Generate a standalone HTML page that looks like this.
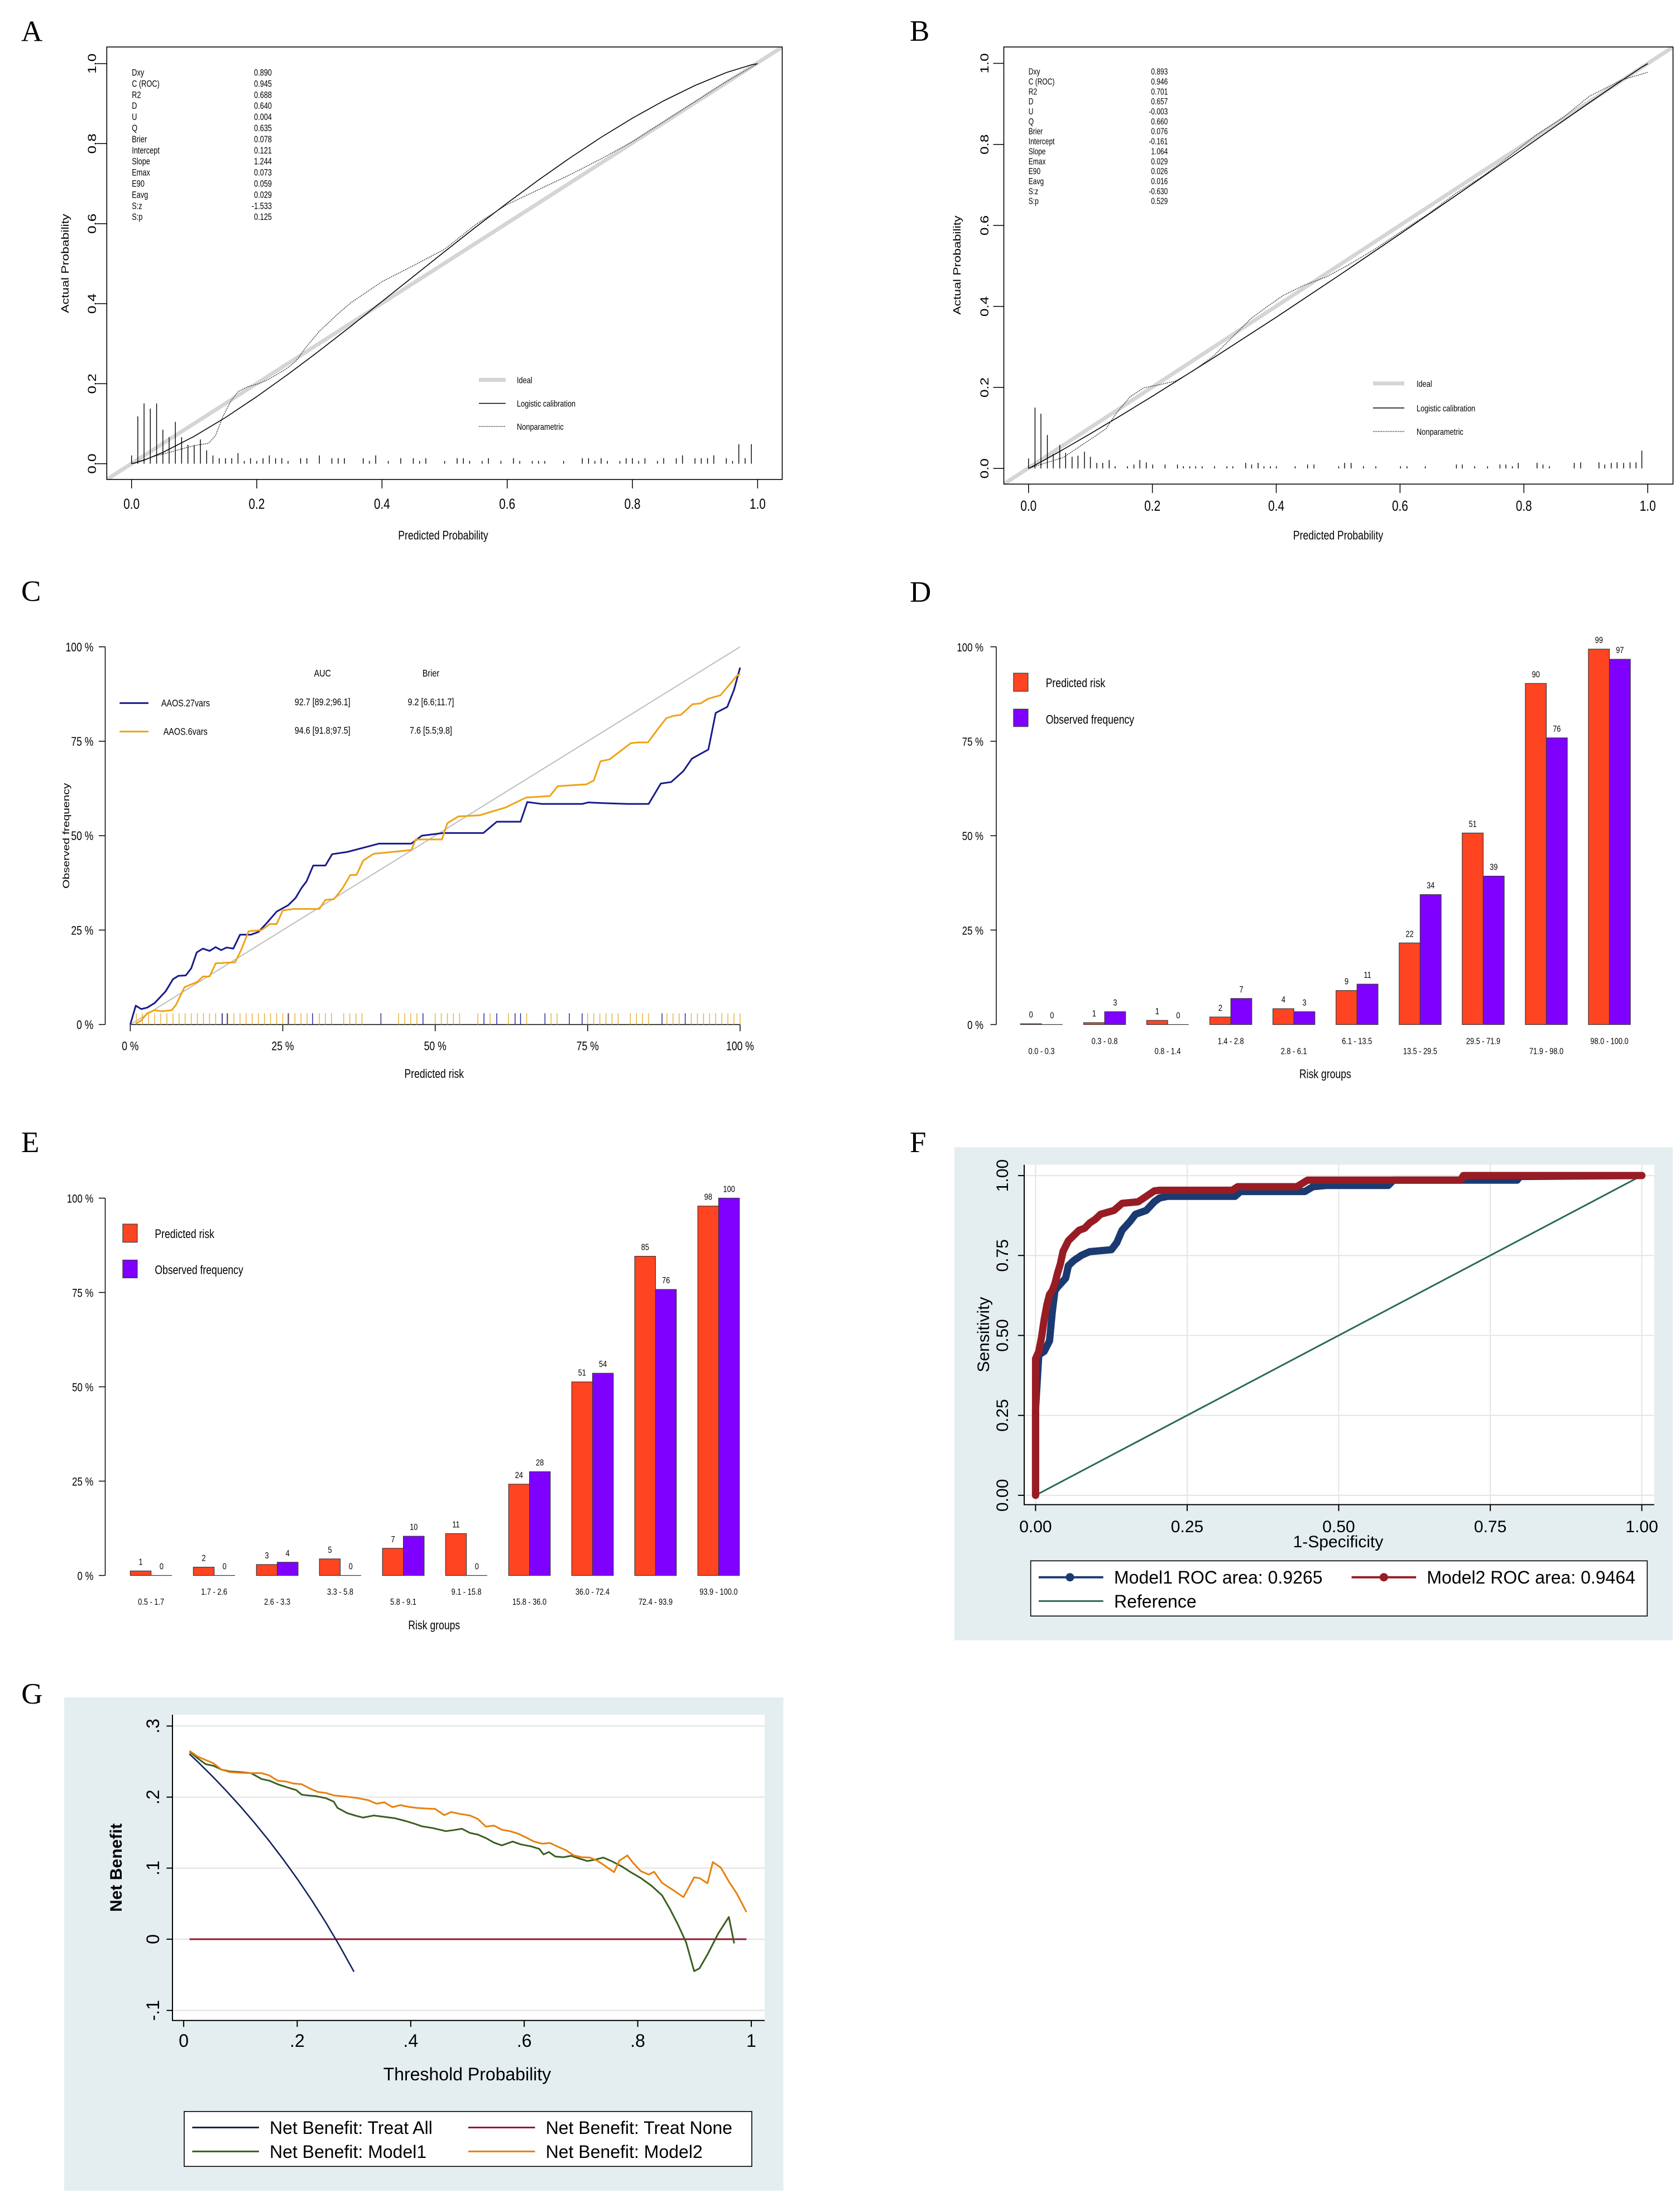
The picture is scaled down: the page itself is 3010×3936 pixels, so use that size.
<!DOCTYPE html>
<html><head><meta charset="utf-8"><style>
html,body{margin:0;padding:0;background:#fff}
svg{display:block}
.s{font-family:"Liberation Sans",Arial,sans-serif;fill:#000}
.sf{font-family:"Liberation Serif","Times New Roman",serif;fill:#000}
</style></head><body>
<svg width="3010" height="3936" viewBox="0 0 3010 3936" xmlns="http://www.w3.org/2000/svg">
<rect width="3010" height="3936" fill="#fff"/>
<defs>
<clipPath id="cA"><rect x="191.3" y="84.2" width="1210.2" height="774.8"/></clipPath>
<clipPath id="cB"><rect x="1798.5" y="84.2" width="1199" height="783.1"/></clipPath>
</defs>

<!-- ================= PANEL A ================= -->
<text class="sf" x="38" y="73.3" font-size="53">A</text>
<line x1="191.3" y1="859" x2="1401.5" y2="84.2" stroke="#d5d5d5" stroke-width="7" clip-path="url(#cA)"/>
<rect x="191.3" y="84.2" width="1210.2" height="774.8" fill="none" stroke="#000" stroke-width="1.6"/>
<g stroke="#000" stroke-width="1.5" fill="none">
<path d="M235.7 859v16M460 859v16M684.4 859v16M908.7 859v16M1133.1 859v16M1357.4 859v16"/>
<path d="M191.3 830.7h-19M191.3 687.4h-19M191.3 544h-19M191.3 400.7h-19M191.3 257.3h-19M191.3 114h-19"/>
</g>
<g class="s" font-size="26" text-anchor="middle">
<text transform="translate(235.7,911.5) scale(.8,1)">0.0</text>
<text transform="translate(460,911.5) scale(.8,1)">0.2</text>
<text transform="translate(684.4,911.5) scale(.8,1)">0.4</text>
<text transform="translate(908.7,911.5) scale(.8,1)">0.6</text>
<text transform="translate(1133.1,911.5) scale(.8,1)">0.8</text>
<text transform="translate(1357.4,911.5) scale(.8,1)">1.0</text>
<text transform="translate(172,830.7) scale(.8,1) rotate(-90)">0.0</text>
<text transform="translate(172,687.4) scale(.8,1) rotate(-90)">0.2</text>
<text transform="translate(172,544) scale(.8,1) rotate(-90)">0.4</text>
<text transform="translate(172,400.7) scale(.8,1) rotate(-90)">0.6</text>
<text transform="translate(172,257.3) scale(.8,1) rotate(-90)">0.8</text>
<text transform="translate(172,114) scale(.8,1) rotate(-90)">1.0</text>
</g>
<text class="s" font-size="22" text-anchor="middle" transform="translate(794,966.5) scale(.8,1)">Predicted Probability</text>
<text class="s" font-size="23" text-anchor="middle" transform="translate(123,472) scale(.8,1) rotate(-90)">Actual Probability</text>
<g class="s" font-size="17" transform="translate(236.3,0) scale(.75,1)">
<text x="0" y="135.5">Dxy</text><text x="0" y="155.4">C (ROC)</text><text x="0" y="175.3">R2</text><text x="0" y="195.2">D</text><text x="0" y="215.1">U</text><text x="0" y="235">Q</text><text x="0" y="254.9">Brier</text><text x="0" y="274.8">Intercept</text><text x="0" y="294.7">Slope</text><text x="0" y="314.6">Emax</text><text x="0" y="334.5">E90</text><text x="0" y="354.4">Eavg</text><text x="0" y="374.3">S:z</text><text x="0" y="394.2">S:p</text>
<g text-anchor="end">
<text x="334.3" y="135.5">0.890</text><text x="334.3" y="155.4">0.945</text><text x="334.3" y="175.3">0.688</text><text x="334.3" y="195.2">0.640</text><text x="334.3" y="215.1">0.004</text><text x="334.3" y="235">0.635</text><text x="334.3" y="254.9">0.078</text><text x="334.3" y="274.8">0.121</text><text x="334.3" y="294.7">1.244</text><text x="334.3" y="314.6">0.073</text><text x="334.3" y="334.5">0.059</text><text x="334.3" y="354.4">0.029</text><text x="334.3" y="374.3">-1.533</text><text x="334.3" y="394.2">0.125</text>
</g></g>
<line x1="858" y1="680.5" x2="906" y2="680.5" stroke="#d5d5d5" stroke-width="7"/>
<line x1="858" y1="722.6" x2="906" y2="722.6" stroke="#000" stroke-width="1.5"/>
<line x1="858" y1="764" x2="906" y2="764" stroke="#000" stroke-width="1.3" stroke-dasharray="1.5,1.5"/>
<g class="s" font-size="16">
<text transform="translate(926,686.5) scale(.8,1)">Ideal</text>
<text transform="translate(926,728.6) scale(.8,1)">Logistic calibration</text>
<text transform="translate(926,770) scale(.8,1)">Nonparametric</text>
</g>
<polyline fill="none" stroke="#000" stroke-width="1.6" points="235.7,830.7 241.3,829.6 258.1,824.4 291.8,810.5 347.9,781.7 404,748 460,710.6 516.1,670.5 572.2,628.4 628.3,584.7 684.4,540.1 740.5,495.4 796.6,450.7 852.6,406.6 908.7,363.9 964.8,322.5 1020.9,283.1 1077,246 1133.1,211.7 1189.1,180.6 1245.2,153.1 1301.3,130 1346.2,116.1 1357.4,114"/>
<polyline fill="none" stroke="#222" stroke-width="1.3" stroke-dasharray="2,1.5" points="235.7,830.7 258.1,823.5 280.6,816.4 303,810.6 325.4,804.2 347.9,798.4 373.7,794.1 386,780.5 399.5,746.1 412.9,719.6 426.4,701.7 443.2,693.1 463.4,687.4 480.2,680.2 497.1,670.2 513.9,660.1 530.7,646.5 547.5,622.9 572.2,593.5 605.9,561.9 628.3,542.6 684.4,504.6 740.5,475.9 796.6,446.5 852.6,402.1 908.7,366.3 964.8,339.8 1020.9,313.2 1077,284.6 1133.1,253.8 1189.1,218 1245.2,182.1 1301.3,146.2 1357.4,114"/>
<path fill="none" stroke="#000" stroke-width="1.4" d="M235.7 830.7v-14.7M246.9 830.7v-84.7M258.1 830.7v-108M269.3 830.7v-98.7M280.6 830.7v-108M291.8 830.7v-61M303 830.7v-47.7M314.2 830.7v-75M325.4 830.7v-47.7M336.7 830.7v-33.7M347.9 830.7v-33.7M359.1 830.7v-43.3M370.3 830.7v-24M381.5 830.7v-14.7M392.7 830.7v-10M404 830.7v-10M415.2 830.7v-10M426.4 830.7v-19M437.6 830.7v-5M448.8 830.7v-10M460 830.7v-5M471.3 830.7v-10M482.5 830.7v-14.7M493.7 830.7v-10M504.9 830.7v-10M516.1 830.7v-5M538.6 830.7v-10M549.8 830.7v-10M572.2 830.7v-14.7M594.6 830.7v-10M605.9 830.7v-10M617.1 830.7v-10M650.7 830.7v-10M661.9 830.7v-5M673.2 830.7v-15M695.6 830.7v-5M718 830.7v-10M740.5 830.7v-10M751.7 830.7v-5M762.9 830.7v-10M796.6 830.7v-5M819 830.7v-10M830.2 830.7v-10M841.4 830.7v-5M863.9 830.7v-5M875.1 830.7v-10M897.5 830.7v-5M920 830.7v-10M931.2 830.7v-5M953.6 830.7v-5M964.8 830.7v-5M976 830.7v-5M1009.7 830.7v-5M1043.3 830.7v-10M1054.5 830.7v-10M1065.8 830.7v-5M1077 830.7v-10M1088.2 830.7v-5M1110.6 830.7v-5M1121.8 830.7v-10M1133.1 830.7v-10M1144.3 830.7v-5M1155.5 830.7v-10M1178 830.7v-5M1189.1 830.7v-10M1211.6 830.7v-10M1222.8 830.7v-15M1245.2 830.7v-10M1256.4 830.7v-10M1267.6 830.7v-10M1278.9 830.7v-15M1301.3 830.7v-10M1312.5 830.7v-5M1323.7 830.7v-35M1335 830.7v-10M1346.2 830.7v-35"/>

<!-- ================= PANEL B ================= -->
<text class="sf" x="1630" y="73" font-size="53">B</text>
<line x1="1798.5" y1="867.3" x2="2997.5" y2="84.2" stroke="#d5d5d5" stroke-width="7" clip-path="url(#cB)"/>
<rect x="1798.5" y="84.2" width="1199" height="783.1" fill="none" stroke="#000" stroke-width="1.6"/>
<g stroke="#000" stroke-width="1.5" fill="none">
<path d="M1842.8 867.3v16M2064.7 867.3v16M2286.6 867.3v16M2508.4 867.3v16M2730.3 867.3v16M2952.2 867.3v16"/>
<path d="M1798.5 839.3h-19M1798.5 694.1h-19M1798.5 549h-19M1798.5 403.8h-19M1798.5 258.7h-19M1798.5 113.5h-19"/>
</g>
<g class="s" font-size="26" text-anchor="middle">
<text transform="translate(1842.8,915) scale(.8,1)">0.0</text>
<text transform="translate(2064.7,915) scale(.8,1)">0.2</text>
<text transform="translate(2286.6,915) scale(.8,1)">0.4</text>
<text transform="translate(2508.4,915) scale(.8,1)">0.6</text>
<text transform="translate(2730.3,915) scale(.8,1)">0.8</text>
<text transform="translate(2952.2,915) scale(.8,1)">1.0</text>
<text transform="translate(1771,839.3) scale(.8,1) rotate(-90)">0.0</text>
<text transform="translate(1771,694.1) scale(.8,1) rotate(-90)">0.2</text>
<text transform="translate(1771,549) scale(.8,1) rotate(-90)">0.4</text>
<text transform="translate(1771,403.8) scale(.8,1) rotate(-90)">0.6</text>
<text transform="translate(1771,258.7) scale(.8,1) rotate(-90)">0.8</text>
<text transform="translate(1771,113.5) scale(.8,1) rotate(-90)">1.0</text>
</g>
<text class="s" font-size="22" text-anchor="middle" transform="translate(2397.5,966.5) scale(.8,1)">Predicted Probability</text>
<text class="s" font-size="23" text-anchor="middle" transform="translate(1721,475) scale(.8,1) rotate(-90)">Actual Probability</text>
<g class="s" font-size="16" transform="translate(1842.8,0) scale(.75,1)">
<text x="0" y="133.6">Dxy</text><text x="0" y="151.5">C (ROC)</text><text x="0" y="169.3">R2</text><text x="0" y="187.2">D</text><text x="0" y="205">U</text><text x="0" y="222.9">Q</text><text x="0" y="240.7">Brier</text><text x="0" y="258.6">Intercept</text><text x="0" y="276.4">Slope</text><text x="0" y="294.3">Emax</text><text x="0" y="312.1">E90</text><text x="0" y="330">Eavg</text><text x="0" y="347.8">S:z</text><text x="0" y="365.7">S:p</text>
<g text-anchor="end">
<text x="332.7" y="133.6">0.893</text><text x="332.7" y="151.5">0.946</text><text x="332.7" y="169.3">0.701</text><text x="332.7" y="187.2">0.657</text><text x="332.7" y="205">-0.003</text><text x="332.7" y="222.9">0.660</text><text x="332.7" y="240.7">0.076</text><text x="332.7" y="258.6">-0.161</text><text x="332.7" y="276.4">1.064</text><text x="332.7" y="294.3">0.029</text><text x="332.7" y="312.1">0.026</text><text x="332.7" y="330">0.016</text><text x="332.7" y="347.8">-0.630</text><text x="332.7" y="365.7">0.529</text>
</g></g>
<line x1="2460" y1="686.9" x2="2516" y2="686.9" stroke="#d5d5d5" stroke-width="7"/>
<line x1="2460" y1="730.9" x2="2516" y2="730.9" stroke="#000" stroke-width="1.5"/>
<line x1="2460" y1="773" x2="2516" y2="773" stroke="#000" stroke-width="1.3" stroke-dasharray="1.5,1.5"/>
<g class="s" font-size="16">
<text transform="translate(2538,692.9) scale(.8,1)">Ideal</text>
<text transform="translate(2538,736.9) scale(.8,1)">Logistic calibration</text>
<text transform="translate(2538,779) scale(.8,1)">Nonparametric</text>
</g>
<polyline fill="none" stroke="#000" stroke-width="1.6" points="1842.8,839.3 1848.3,836.5 1865,827.6 1898.3,809 1953.7,776.9 2009.2,743.8 2064.7,709.9 2175.6,640.2 2286.6,568.3 2397.5,494.5 2508.4,419.2 2619.4,342.8 2730.3,265.6 2841.3,188.3 2896.7,150.2 2941.1,120.5 2952.2,114"/>
<polyline fill="none" stroke="#222" stroke-width="1.3" stroke-dasharray="2,1.5" points="1842.8,839.3 1865,832 1904.9,819.7 1952.6,787.8 1981.5,768.2 2000.3,739.9 2024.7,710.8 2049.1,694.9 2078,689.1 2106.8,682.5 2140.1,662.9 2174.5,637.5 2212.2,599.8 2241.1,570.8 2269.9,549.7 2298.8,529.4 2337.6,510.5 2376.4,496 2415.3,475 2463,446.6 2510.7,414.7 2559.5,382.8 2607.2,347.2 2656,316 2703.7,280.4 2751.4,242.7 2800.2,210.8 2847.9,172.3 2905.6,143.3 2952.2,129.5"/>
<path fill="none" stroke="#000" stroke-width="1.4" d="M1842.8 839.3v-18M1854.4 839.3v-109M1865 839.3v-98M1876.5 839.3v-60M1887.1 839.3v-25.5M1898.7 839.3v-42M1909.3 839.3v-28M1920.8 839.3v-21M1931.4 839.3v-23M1943 839.3v-30M1953.6 839.3v-21M1965.1 839.3v-10M1975.7 839.3v-10M1987.3 839.3v-15M1997.9 839.3v-4M2020 839.3v-4M2031.6 839.3v-7M2042.2 839.3v-15M2053.7 839.3v-11M2065.3 839.3v-7M2087.4 839.3v-7M2109.6 839.3v-7M2120.2 839.3v-4M2131.7 839.3v-4M2142.3 839.3v-4M2153.9 839.3v-4M2176 839.3v-4M2198.2 839.3v-4M2208.8 839.3v-4M2231.9 839.3v-10M2242.5 839.3v-7M2254.1 839.3v-10M2264.6 839.3v-4M2276.2 839.3v-4M2286.8 839.3v-4M2320.5 839.3v-4M2342.7 839.3v-7M2354.2 839.3v-7M2398.5 839.3v-4M2409.1 839.3v-10M2420.7 839.3v-10M2442.8 839.3v-4M2465 839.3v-4M2509.2 839.3v-4M2520.8 839.3v-4M2553.6 839.3v-4M2609.4 839.3v-7M2620 839.3v-7M2642.1 839.3v-4M2665.3 839.3v-4M2687.4 839.3v-7M2698 839.3v-7M2709.6 839.3v-4M2720.2 839.3v-10M2753.9 839.3v-10M2764.5 839.3v-7M2776 839.3v-4M2820.5 839.3v-10M2832 839.3v-11M2864.8 839.3v-11M2875.2 839.3v-7M2886.8 839.3v-10M2897.3 839.3v-11M2909 839.3v-10M2920.5 839.3v-11M2931.2 839.3v-11M2941.6 839.3v-32"/>

<!-- ================= PANEL C ================= -->
<text class="sf" x="38" y="1076.5" font-size="53">C</text>
<g stroke="#000" stroke-width="1.5" fill="none">
<path d="M188.5 1158.8V1835.5M177 1158.8h11.5M177 1328h11.5M177 1497.2h11.5M177 1666.3h11.5M177 1835.5h11.5"/>
<path d="M233.4 1835.5H1326M233.4 1835.5v12M506.6 1835.5v12M779.7 1835.5v12M1052.9 1835.5v12M1326 1835.5v12"/>
</g>
<g class="s" font-size="22" text-anchor="end">
<text transform="translate(167.4,1166.8) scale(.8,1)">100 %</text>
<text transform="translate(167.4,1336) scale(.8,1)">75 %</text>
<text transform="translate(167.4,1505.2) scale(.8,1)">50 %</text>
<text transform="translate(167.4,1674.3) scale(.8,1)">25 %</text>
<text transform="translate(167.4,1843.5) scale(.8,1)">0 %</text>
</g>
<g class="s" font-size="22" text-anchor="middle">
<text transform="translate(233.4,1881.7) scale(.8,1)">0 %</text>
<text transform="translate(506.6,1881.7) scale(.8,1)">25 %</text>
<text transform="translate(779.7,1881.7) scale(.8,1)">50 %</text>
<text transform="translate(1052.9,1881.7) scale(.8,1)">75 %</text>
<text transform="translate(1326,1881.7) scale(.8,1)">100 %</text>
<text transform="translate(777.8,1930.8) scale(.8,1)">Predicted risk</text>
<text transform="translate(124,1497.4) scale(.8,1) rotate(-90)" font-size="21">Observed frequency</text>
</g>
<line x1="233.4" y1="1835.5" x2="1326" y2="1158.8" stroke="#bdbdbd" stroke-width="2"/>
<g class="s" font-size="18" text-anchor="middle">
<text transform="translate(577.8,1212) scale(.8,1)">AUC</text>
<text transform="translate(772,1212) scale(.8,1)">Brier</text>
<text transform="translate(577.8,1263.5) scale(.8,1)">92.7 [89.2;96.1]</text>
<text transform="translate(772,1263.5) scale(.8,1)">9.2 [6.6;11.7]</text>
<text transform="translate(577.8,1314.5) scale(.8,1)">94.6 [91.8;97.5]</text>
<text transform="translate(772,1314.5) scale(.8,1)">7.6 [5.5;9.8]</text>
</g>
<g class="s" font-size="18">
<text transform="translate(288.9,1265.6) scale(.8,1)">AAOS.27vars</text>
<text transform="translate(292.7,1316.6) scale(.8,1)">AAOS.6vars</text>
</g>
<line x1="214.3" y1="1259.6" x2="266" y2="1259.6" stroke="#1a1a8c" stroke-width="3"/>
<line x1="214.3" y1="1310.6" x2="266" y2="1310.6" stroke="#eea315" stroke-width="3"/>
<g transform="translate(233.4,1835.5) scale(10.926,-6.767)" fill="none">
<path fill="none" stroke="#e8b43a" stroke-width="1.5" vector-effect="non-scaling-stroke" d="M1 0V3M2 0V3M3 0V3M4 0V3M5 0V3M6 0V3M7 0V3M8 0V3M9 0V3M10 0V3M11 0V3M12 0V3M13 0V3M14 0V3M15 0V3M16 0V3M17 0V3M18 0V3M19 0V3M20 0V3M21 0V3M22 0V3M23 0V3M24 0V3M25 0V3M26 0V3M27 0V3M28 0V3M29 0V3M31 0V3M32 0V3M33 0V3M35 0V3M36 0V3M37 0V3M38 0V3M44 0V3M45 0V3M46 0V3M47 0V3M50 0V3M51 0V3M52 0V3M53 0V3M54 0V3M57 0V3M59 0V3M62 0V3M65 0V3M69 0V3M70 0V3M75 0V3M76 0V3M77 0V3M78 0V3M79 0V3M80 0V3M82 0V3M83 0V3M84 0V3M85 0V3M88 0V3M89 0V3M90 0V3M92 0V3M93 0V3M94 0V3M95 0V3M96 0V3M97 0V3M98 0V3M99 0V3M100 0V3"/>
<path fill="none" stroke="#2a2a9a" stroke-width="1.5" vector-effect="non-scaling-stroke" d="M15.1 0V3M15.9 0V3M25.9 0V3M29.9 0V3M41.1 0V3M48 0V3M58 0V3M60.1 0V3M63.1 0V3M64 0V3M68 0V3M72 0V3M74.1 0V3M87.2 0V3M91 0V3"/>
<polyline fill="none" stroke="#1a1a8c" stroke-width="3" vector-effect="non-scaling-stroke" stroke-linejoin="round" points="0,0 0.9,5 1.8,4.1 2.8,4.5 4,5.7 5.8,8.8 7,12 7.9,12.9 9.1,13 10,14.9 10.9,19.1 11.9,20.1 13,19.5 14,20.5 14.9,19.7 15.8,20.4 16.9,20.1 18,23.8 19.8,23.8 21,24.5 22.4,26.9 24,29.9 25.9,31.6 27.1,33.5 28.1,36.2 28.9,37.9 30,42.1 32,42.1 33.1,45.1 35.6,45.7 38.2,46.8 40.8,47.9 46.1,47.9 47.8,50 51.3,50.7 57.9,50.7 60.1,53.7 64,53.7 65.1,58.9 67.5,58.4 74.1,58.4 75.1,58.8 78,58.6 81.5,58.4 85,58.4 87,63.8 88.7,64.2 90.7,67.1 92.1,70.4 94.8,72.8 96,82.5 97.9,84.1 99,88.6 100,94.5"/>
<polyline fill="none" stroke="#eea315" stroke-width="3" vector-effect="non-scaling-stroke" stroke-linejoin="round" points="0.9,0.2 1.8,1.1 2.8,3 4,3.8 5.2,3.5 6.8,3.8 7.5,5.2 8.9,9.9 11,11.3 11.9,12.7 13,12.7 14,16.2 17.2,16.5 18.2,19.8 19.4,24.7 21.5,25 22.9,26.6 24,26.6 25,30.2 26.8,30.6 31,30.6 32,33 33.4,33.2 34.7,35.8 36.1,39.6 37.1,39.6 38.2,43.4 39.9,45.2 46.1,46.2 46.8,49 51.1,49 52,53.3 53.8,55.1 57.3,55.4 61.6,57.5 64.9,60.1 68.8,60.5 70.1,63.1 74.8,63.6 76,64.6 77.1,69.7 78.6,70.2 82.1,74.5 83.3,74.7 84.9,74.7 86.5,78.2 87.9,81.1 89,81.7 90.3,82 92.2,84.8 93.5,85 94.7,86.2 96.8,87.2 99.5,92.4 100,92.8"/>
</g>

<!-- ================= PANEL D ================= -->
<text class="sf" x="1630" y="1077.8" font-size="53">D</text>
<g stroke="#000" stroke-width="1.5" fill="none">
<path d="M1785 1158.8V1835.5M1774.5 1158.8h10.5M1774.5 1328h10.5M1774.5 1497.2h10.5M1774.5 1666.3h10.5M1774.5 1835.5h10.5"/>
</g>
<g class="s" font-size="21" text-anchor="end">
<text transform="translate(1762,1166.8) scale(.8,1)">100 %</text>
<text transform="translate(1762,1336) scale(.8,1)">75 %</text>
<text transform="translate(1762,1505.2) scale(.8,1)">50 %</text>
<text transform="translate(1762,1674.3) scale(.8,1)">25 %</text>
<text transform="translate(1762,1843.5) scale(.8,1)">0 %</text>
</g>
<g stroke="#3a3a3a" stroke-width="1.2">
<g fill="#ff4422">
<rect x="1828.4" y="1834.15" width="37.6" height="1.35"/>
<rect x="1941.5" y="1832.1" width="37.6" height="3.4"/>
<rect x="2054.5" y="1828.1" width="37.6" height="7.4"/>
<rect x="2167.6" y="1822" width="37.6" height="13.5"/>
<rect x="2280.6" y="1807.1" width="37.6" height="28.4"/>
<rect x="2393.7" y="1774.6" width="37.6" height="60.9"/>
<rect x="2506.8" y="1689.3" width="37.6" height="146.2"/>
<rect x="2619.8" y="1492.4" width="37.6" height="343.1"/>
<rect x="2732.9" y="1224.4" width="37.6" height="611.1"/>
<rect x="2845.9" y="1162.9" width="37.6" height="672.6"/>
</g>
<g fill="#8000ff">
<rect x="1979.1" y="1812.5" width="37.6" height="23"/>
<rect x="2205.2" y="1788.8" width="37.6" height="46.7"/>
<rect x="2318.2" y="1812.5" width="37.6" height="23"/>
<rect x="2431.3" y="1763.1" width="37.6" height="72.4"/>
<rect x="2544.4" y="1602.7" width="37.6" height="232.8"/>
<rect x="2657.4" y="1569.6" width="37.6" height="265.9"/>
<rect x="2770.5" y="1321.9" width="37.6" height="513.6"/>
<rect x="2883.5" y="1181.1" width="37.6" height="654.4"/>
</g>
<path fill="none" d="M1866 1835.5h37.6M2092.1 1835.5h37.6"/>
</g>
<g class="s" font-size="16" text-anchor="middle">
<text transform="translate(1847.2,1823.2) scale(.8,1)">0</text>
<text transform="translate(1884.8,1824.5) scale(.8,1)">0</text>
<text transform="translate(1960.3,1821.1) scale(.8,1)">1</text>
<text transform="translate(1997.9,1801.5) scale(.8,1)">3</text>
<text transform="translate(2073.3,1817.1) scale(.8,1)">1</text>
<text transform="translate(2110.9,1824.5) scale(.8,1)">0</text>
<text transform="translate(2186.4,1811) scale(.8,1)">2</text>
<text transform="translate(2224,1777.8) scale(.8,1)">7</text>
<text transform="translate(2299.4,1796.1) scale(.8,1)">4</text>
<text transform="translate(2337,1801.5) scale(.8,1)">3</text>
<text transform="translate(2412.5,1763.6) scale(.8,1)">9</text>
<text transform="translate(2450.1,1752.1) scale(.8,1)">11</text>
<text transform="translate(2525.6,1678.3) scale(.8,1)">22</text>
<text transform="translate(2563.2,1591.7) scale(.8,1)">34</text>
<text transform="translate(2638.6,1481.4) scale(.8,1)">51</text>
<text transform="translate(2676.2,1558.6) scale(.8,1)">39</text>
<text transform="translate(2751.7,1213.4) scale(.8,1)">90</text>
<text transform="translate(2789.3,1310.9) scale(.8,1)">76</text>
<text transform="translate(2864.7,1151.9) scale(.8,1)">99</text>
<text transform="translate(2902.3,1170.1) scale(.8,1)">97</text>
<text transform="translate(1866,1888.5) scale(.8,1)">0.0 - 0.3</text>
<text transform="translate(1979.1,1870.6) scale(.8,1)">0.3 - 0.8</text>
<text transform="translate(2092.1,1888.5) scale(.8,1)">0.8 - 1.4</text>
<text transform="translate(2205.2,1870.6) scale(.8,1)">1.4 - 2.8</text>
<text transform="translate(2318.2,1888.5) scale(.8,1)">2.8 - 6.1</text>
<text transform="translate(2431.3,1870.6) scale(.8,1)">6.1 - 13.5</text>
<text transform="translate(2544.4,1888.5) scale(.8,1)">13.5 - 29.5</text>
<text transform="translate(2657.4,1870.6) scale(.8,1)">29.5 - 71.9</text>
<text transform="translate(2770.5,1888.5) scale(.8,1)">71.9 - 98.0</text>
<text transform="translate(2883.5,1870.6) scale(.8,1)">98.0 - 100.0</text>
<text transform="translate(2374.4,1931.5) scale(.8,1)" font-size="22">Risk groups</text>
</g>
<rect x="1815.9" y="1206" width="26" height="32.5" fill="#ff4422" stroke="#3a3a3a" stroke-width="1.2"/>
<rect x="1815.9" y="1270.4" width="26" height="31.3" fill="#8000ff" stroke="#3a3a3a" stroke-width="1.2"/>
<g class="s" font-size="22">
<text transform="translate(1873.7,1231.2) scale(.8,1)">Predicted risk</text>
<text transform="translate(1873.7,1296.3) scale(.8,1)">Observed frequency</text>
</g>

<!-- ================= PANEL E ================= -->
<text class="sf" x="38" y="2064.2" font-size="53">E</text>
<g stroke="#000" stroke-width="1.5" fill="none">
<path d="M188.5 2146.5V2822.5M177 2146.5h11.5M177 2315.5h11.5M177 2484.5h11.5M177 2653.5h11.5M177 2822.5h11.5"/>
</g>
<g class="s" font-size="21" text-anchor="end">
<text transform="translate(167.4,2154.5) scale(.8,1)">100 %</text>
<text transform="translate(167.4,2323.5) scale(.8,1)">75 %</text>
<text transform="translate(167.4,2492.5) scale(.8,1)">50 %</text>
<text transform="translate(167.4,2661.5) scale(.8,1)">25 %</text>
<text transform="translate(167.4,2830.5) scale(.8,1)">0 %</text>
</g>
<g stroke="#3a3a3a" stroke-width="1.2">
<g fill="#ff4422">
<rect x="233.4" y="2814.4" width="37.3" height="8.1"/>
<rect x="346.4" y="2807.6" width="37.3" height="14.9"/>
<rect x="459.4" y="2802.9" width="37.3" height="19.6"/>
<rect x="572.3" y="2792.8" width="37.3" height="29.7"/>
<rect x="685.3" y="2773.8" width="37.3" height="48.7"/>
<rect x="798.3" y="2747.5" width="37.3" height="75"/>
<rect x="911.3" y="2658.9" width="37.3" height="163.6"/>
<rect x="1024.3" y="2475.7" width="37.3" height="346.8"/>
<rect x="1137.2" y="2250.6" width="37.3" height="571.9"/>
<rect x="1250.2" y="2160.7" width="37.3" height="661.8"/>
</g>
<g fill="#8000ff">
<rect x="496.7" y="2798.8" width="37.3" height="23.7"/>
<rect x="722.6" y="2752.2" width="37.3" height="70.3"/>
<rect x="948.6" y="2636.6" width="37.3" height="185.9"/>
<rect x="1061.6" y="2460.2" width="37.3" height="362.3"/>
<rect x="1174.5" y="2310.1" width="37.3" height="512.4"/>
<rect x="1287.5" y="2146.5" width="37.3" height="676"/>
</g>
<path fill="none" d="M270.7 2822.5h37.3M383.7 2822.5h37.3M609.6 2822.5h37.3M835.6 2822.5h37.3"/>
</g>
<g class="s" font-size="16" text-anchor="middle">
<text transform="translate(252.1,2803.4) scale(.8,1)">1</text>
<text transform="translate(289.4,2811.5) scale(.8,1)">0</text>
<text transform="translate(365,2796.6) scale(.8,1)">2</text>
<text transform="translate(402.3,2811.5) scale(.8,1)">0</text>
<text transform="translate(478,2791.9) scale(.8,1)">3</text>
<text transform="translate(515.3,2787.8) scale(.8,1)">4</text>
<text transform="translate(591,2781.8) scale(.8,1)">5</text>
<text transform="translate(628.3,2811.5) scale(.8,1)">0</text>
<text transform="translate(704,2762.8) scale(.8,1)">7</text>
<text transform="translate(741.3,2741.2) scale(.8,1)">10</text>
<text transform="translate(817,2736.5) scale(.8,1)">11</text>
<text transform="translate(854.3,2811.5) scale(.8,1)">0</text>
<text transform="translate(929.9,2647.9) scale(.8,1)">24</text>
<text transform="translate(967.2,2625.6) scale(.8,1)">28</text>
<text transform="translate(1042.9,2464.7) scale(.8,1)">51</text>
<text transform="translate(1080.2,2449.2) scale(.8,1)">54</text>
<text transform="translate(1155.9,2239.6) scale(.8,1)">85</text>
<text transform="translate(1193.2,2299.1) scale(.8,1)">76</text>
<text transform="translate(1268.9,2149.7) scale(.8,1)">98</text>
<text transform="translate(1306.2,2135.5) scale(.8,1)">100</text>
<text transform="translate(270.7,2874.8) scale(.8,1)">0.5 - 1.7</text>
<text transform="translate(383.7,2857) scale(.8,1)">1.7 - 2.6</text>
<text transform="translate(496.7,2874.8) scale(.8,1)">2.6 - 3.3</text>
<text transform="translate(609.6,2857) scale(.8,1)">3.3 - 5.8</text>
<text transform="translate(722.6,2874.8) scale(.8,1)">5.8 - 9.1</text>
<text transform="translate(835.6,2857) scale(.8,1)">9.1 - 15.8</text>
<text transform="translate(948.6,2874.8) scale(.8,1)">15.8 - 36.0</text>
<text transform="translate(1061.6,2857) scale(.8,1)">36.0 - 72.4</text>
<text transform="translate(1174.5,2874.8) scale(.8,1)">72.4 - 93.9</text>
<text transform="translate(1287.5,2857) scale(.8,1)">93.9 - 100.0</text>
<text transform="translate(777.8,2919) scale(.8,1)" font-size="22">Risk groups</text>
</g>
<rect x="220" y="2193" width="26" height="32.5" fill="#ff4422" stroke="#3a3a3a" stroke-width="1.2"/>
<rect x="220" y="2257.4" width="26" height="32" fill="#8000ff" stroke="#3a3a3a" stroke-width="1.2"/>
<g class="s" font-size="22">
<text transform="translate(277.4,2218.2) scale(.8,1)">Predicted risk</text>
<text transform="translate(277.4,2282.6) scale(.8,1)">Observed frequency</text>
</g>

<!-- ================= PANEL F ================= -->
<text class="sf" x="1630" y="2064.2" font-size="53">F</text>
<rect x="1710" y="2055.3" width="1287" height="883.2" fill="#e4eef1"/>
<rect x="1835" y="2086.7" width="1128.8" height="608.9" fill="#fff"/>
<g stroke="#e4e4e4" stroke-width="2" fill="none">
<path d="M1835 2678.9H2963.8M1835 2535.7H2963.8M1835 2392.5H2963.8M1835 2249.3H2963.8M1835 2106.1H2963.8"/>
<path d="M1855.4 2086.7V2695.6M2127 2086.7V2695.6M2398.5 2086.7V2695.6M2670.1 2086.7V2695.6M2941.6 2086.7V2695.6"/>
</g>
<g stroke="#000" stroke-width="2" fill="none">
<path d="M1835 2086.7V2695.6H2963.8"/>
<path d="M1824 2678.9h11M1824 2535.7h11M1824 2392.5h11M1824 2249.3h11M1824 2106.1h11"/>
<path d="M1855.4 2695.6v11.5M2127 2695.6v11.5M2398.5 2695.6v11.5M2670.1 2695.6v11.5M2941.6 2695.6v11.5"/>
</g>
<g class="s" font-size="30" text-anchor="middle">
<text transform="translate(1806,2678.9) rotate(-90)">0.00</text>
<text transform="translate(1806,2535.7) rotate(-90)">0.25</text>
<text transform="translate(1806,2392.5) rotate(-90)">0.50</text>
<text transform="translate(1806,2249.3) rotate(-90)">0.75</text>
<text transform="translate(1806,2106.1) rotate(-90)">1.00</text>
<text x="1855.4" y="2745">0.00</text>
<text x="2127" y="2745">0.25</text>
<text x="2398.5" y="2745">0.50</text>
<text x="2670.1" y="2745">0.75</text>
<text x="2941.6" y="2745">1.00</text>
<text x="2397.5" y="2772">1-Specificity</text>
<text transform="translate(1772,2391) rotate(-90)">Sensitivity</text>
</g>
<g transform="translate(1855.4,2678.9) scale(1086.2,-572.9)" fill="none">
<line x1="0" y1="0" x2="1" y2="1" stroke="#2a6a5a" stroke-width="3" vector-effect="non-scaling-stroke"/>
<polyline fill="none" stroke="#1b3a72" stroke-width="13" stroke-linejoin="round" stroke-linecap="round" vector-effect="non-scaling-stroke" points="0,0 0,.271 .0053,.439 .0142,.45 .023,.483 .0275,.573 .0319,.64 .0363,.651 .0496,.679 .0541,.718 .0629,.734 .0762,.751 .0895,.762 .125,.768 .1339,.79 .1427,.829 .156,.857 .1649,.879 .1826,.891 .1959,.918 .2048,.93 .2181,.935 .3289,.935 .3378,.95 .4441,.95 .4574,.965 .4796,.969 .5816,.969 .5904,.9855 .7943,.9855 .7988,.997 1,1"/>
<polyline fill="none" stroke="#981c24" stroke-width="13" stroke-linejoin="round" stroke-linecap="round" vector-effect="non-scaling-stroke" points="0,0 0,.427 .0053,.45 .0098,.494 .0142,.55 .0186,.595 .023,.628 .0275,.64 .0319,.662 .0363,.695 .0408,.723 .0452,.762 .0496,.779 .0541,.796 .0629,.8125 .0718,.829 .0807,.835 .0895,.852 .0984,.863 .1073,.879 .1294,.891 .1427,.913 .1693,.918 .1826,.935 .1959,.952 .2048,.954 .3245,.954 .3333,.965 .4309,.965 .4486,.9855 .7012,.9855 .7057,1 1,1"/>
</g>
<rect x="1846.7" y="2796.3" width="1104.6" height="98.9" fill="#fff" stroke="#000" stroke-width="1.6"/>
<line x1="1861" y1="2825.7" x2="1976.7" y2="2825.7" stroke="#1b3a72" stroke-width="4"/>
<circle cx="1917" cy="2825.7" r="7.5" fill="#1b3a72"/>
<line x1="2421.6" y1="2825.7" x2="2537.2" y2="2825.7" stroke="#981c24" stroke-width="4"/>
<circle cx="2479.4" cy="2825.7" r="7.5" fill="#981c24"/>
<line x1="1861" y1="2868.4" x2="1976.7" y2="2868.4" stroke="#2a6a5a" stroke-width="3"/>
<g class="s" font-size="32">
<text x="1996" y="2837">Model1 ROC area: 0.9265</text>
<text x="2556.4" y="2837">Model2 ROC area: 0.9464</text>
<text x="1996" y="2880">Reference</text>
</g>

<!-- ================= PANEL G ================= -->
<text class="sf" x="38.3" y="3052" font-size="53">G</text>
<rect x="114.8" y="3040.9" width="1288.6" height="883.9" fill="#e4eef1"/>
<rect x="309" y="3072" width="1061" height="547.8" fill="#fff"/>
<g stroke="#e2e2e2" stroke-width="2" fill="none">
<path d="M309 3092.3H1370M309 3219.6H1370M309 3346.7H1370M309 3474.1H1370M309 3601.7H1370"/>
</g>
<g stroke="#000" stroke-width="2" fill="none">
<path d="M309 3072V3619.8H1370"/>
<path d="M298.5 3092.3h10.5M298.5 3219.6h10.5M298.5 3346.7h10.5M298.5 3474.1h10.5M298.5 3601.7h10.5"/>
<path d="M329.1 3619.8v11.5M532.5 3619.8v11.5M735.9 3619.8v11.5M939.2 3619.8v11.5M1142.6 3619.8v11.5M1346 3619.8v11.5"/>
</g>
<g class="s" font-size="32" text-anchor="middle">
<text transform="translate(285,3092.3) rotate(-90)">.3</text>
<text transform="translate(285,3219.6) rotate(-90)">.2</text>
<text transform="translate(285,3346.7) rotate(-90)">.1</text>
<text transform="translate(285,3474.1) rotate(-90)">0</text>
<text transform="translate(285,3601.7) rotate(-90)">-.1</text>
<text x="329.1" y="3667">0</text>
<text x="532.5" y="3667">.2</text>
<text x="735.9" y="3667">.4</text>
<text x="939.2" y="3667">.6</text>
<text x="1142.6" y="3667">.8</text>
<text x="1346" y="3667">1</text>
<text x="837" y="3727">Threshold Probability</text>
<text transform="translate(218,3345.9) rotate(-90)" font-size="30" font-weight="bold">Net Benefit</text>
</g>
<g transform="translate(0,2960) scale(0.95666,0.62243)" fill="none" stroke-linejoin="round">
<line x1="355" y1="826" x2="1398" y2="826" stroke="#8c1c32" stroke-width="3" vector-effect="non-scaling-stroke"/>
<polyline fill="none" stroke="#13235a" stroke-width="2.6" vector-effect="non-scaling-stroke" points="354.6,292.5 370.6,315.8 397.2,356.2 423.7,398.9 450.3,443.8 476.9,491.5 503.5,541.9 530,595.3 556.6,652 583.2,712.4 609.8,776.9 636.3,845.9 662.9,919.5"/>
<polyline fill="none" stroke="#3b5e20" stroke-width="3" vector-effect="non-scaling-stroke" points="355,286 370,305 385,322 400,327 415,338 430,343 450,345 470,348 490,365 505,370 520,380 540,390 555,397 565,410 575,412 590,414 610,420 625,430 632,448 650,463 665,470 680,476 700,470 720,474 740,478 760,486 775,493 790,501 810,506 835,515 850,512 865,508 880,520 895,525 910,535 925,548 940,556 960,545 975,553 995,559 1010,566 1018,582 1028,575 1040,588 1055,590 1070,586 1085,594 1100,601 1115,597 1130,591 1145,601 1165,617 1180,632 1200,650 1220,672 1240,700 1255,740 1270,785 1285,835 1300,918 1310,910 1325,870 1345,810 1365,762 1375,838"/>
<polyline fill="none" stroke="#e8800e" stroke-width="3" vector-effect="non-scaling-stroke" points="355,284 370,300 385,310 400,320 415,338 430,345 450,347 470,348 490,348 505,355 520,370 535,372 550,378 565,380 580,392 595,402 610,405 625,412 650,416 670,420 690,426 705,436 720,432 735,446 750,440 765,445 780,448 800,450 815,451 832,469 845,460 860,465 880,470 895,480 910,502 925,499 940,511 955,515 970,522 985,533 1000,545 1015,551 1030,549 1045,560 1060,570 1075,585 1090,590 1105,591 1120,601 1135,617 1150,633 1160,600 1175,585 1185,605 1200,630 1215,640 1225,632 1240,664 1260,684 1280,705 1300,648 1310,650 1325,665 1335,604 1350,620 1365,660 1380,695 1398,748"/>
</g>
<rect x="330" y="3782.8" width="1017" height="98.4" fill="#fff" stroke="#000" stroke-width="1.6"/>
<line x1="344.4" y1="3811.5" x2="464" y2="3811.5" stroke="#13235a" stroke-width="3"/>
<line x1="839" y1="3811.5" x2="958.6" y2="3811.5" stroke="#8c1c32" stroke-width="3"/>
<line x1="344.4" y1="3854.4" x2="464" y2="3854.4" stroke="#3b5e20" stroke-width="3"/>
<line x1="839" y1="3854.4" x2="958.6" y2="3854.4" stroke="#e8800e" stroke-width="3"/>
<g class="s" font-size="32">
<text x="483.1" y="3823">Net Benefit: Treat All</text>
<text x="977.7" y="3823">Net Benefit: Treat None</text>
<text x="483.1" y="3866">Net Benefit: Model1</text>
<text x="977.7" y="3866">Net Benefit: Model2</text>
</g>
</svg>
</body></html>
